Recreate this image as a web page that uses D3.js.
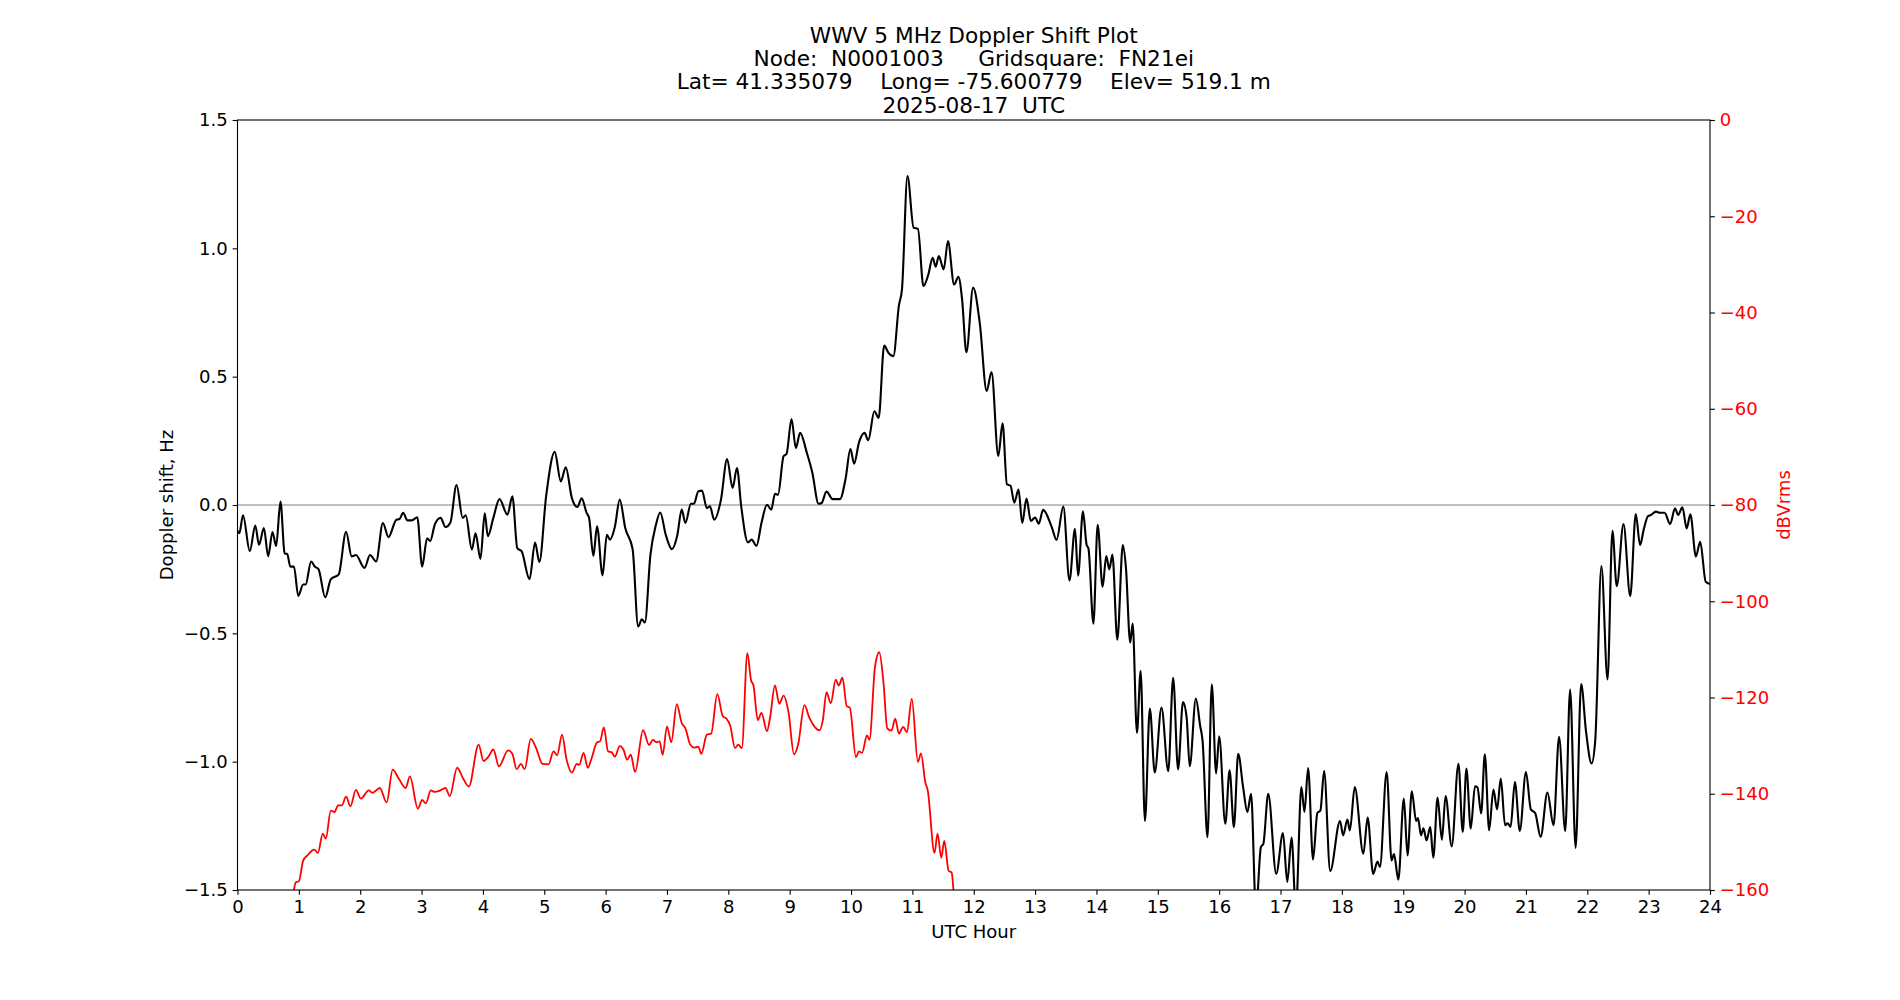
<!DOCTYPE html>
<html><head><meta charset="utf-8">
<script src="https://cdn.jsdelivr.net/npm/d3@7"></script>
<style>
body{margin:0;background:#fff}
svg text{font-family:"DejaVu Sans",sans-serif;white-space:pre}
</style>
</head><body>
<svg id="chart" width="1900" height="1000"></svg>
<script>
const titleLines = [
  "WWV 5 MHz Doppler Shift Plot",
  "Node:  N0001003     Gridsquare:  FN21ei",
  "Lat= 41.335079    Long= -75.600779    Elev= 519.1 m",
  "2025-08-17  UTC"
];
const xLabel = "UTC Hour";
const yLeftLabel = "Doppler shift, Hz";
const yRightLabel = "dBVrms";
const xTicks = d3.range(0, 25, 1);
const hzTicks = [-1.5, -1.0, -0.5, 0.0, 0.5, 1.0, 1.5];
const dbTicks = [0, -20, -40, -60, -80, -100, -120, -140, -160];

const dopplerHours = [
 0.00,0.03,0.09,0.20,0.29,0.35,0.43,0.50,0.57,0.63,0.70,0.77,0.81,0.86,0.92,0.99,1.07,1.11,1.20,1.26,1.32,1.43,1.52,1.65,1.77,1.86,1.93,2.07,2.16,2.26,2.37,2.46,2.59,2.64,2.70,2.77,2.84,2.93,3.01,3.09,3.14,3.22,3.31,3.39,3.47,3.57,3.67,3.72,3.82,3.88,3.96,4.03,
 4.08,4.17,4.27,4.40,4.48,4.56,4.63,4.76,4.85,4.92,5.03,5.17,5.27,5.35,5.45,5.54,5.61,5.69,5.73,5.80,5.86,5.95,6.02,6.07,6.15,6.23,6.32,6.44,6.53,6.59,6.64,6.73,6.82,6.89,6.98,7.08,7.17,7.24,7.30,7.39,7.44,7.51,7.57,7.65,7.70,7.77,7.88,7.98,
 8.07,8.14,8.21,8.32,8.38,8.46,8.54,8.63,8.70,8.76,8.81,8.90,8.95,9.03,9.10,9.17,9.28,9.37,9.47,9.52,9.60,9.70,9.82,9.91,9.99,10.05,10.13,10.22,10.28,10.38,10.45,10.54,10.61,10.69,10.78,10.83,10.92,11.02,11.09,11.18,11.26,11.33,11.38,11.43,11.51,11.58,11.68,11.75,11.81,11.88,11.99,
 12.10,12.21,12.29,12.40,12.47,12.54,12.60,12.66,12.73,12.79,12.86,12.93,13.00,13.06,13.13,13.27,13.35,13.46,13.56,13.65,13.70,13.78,13.84,13.87,13.95,14.02,14.10,14.16,14.21,14.26,14.34,14.43,14.48,14.55,14.59,14.66,14.72,14.79,14.87,14.95,15.06,15.17,15.25,15.33,15.41,15.47,15.52,15.62,15.69,15.73,15.81,15.88,15.95,
 16.00,16.10,16.17,16.24,16.31,16.39,16.46,16.52,16.60,16.68,16.72,16.80,16.93,17.04,17.11,17.18,17.25,17.34,17.39,17.45,17.53,17.60,17.65,17.71,17.81,17.97,18.02,18.09,18.13,18.21,18.35,18.42,18.51,18.58,18.62,18.73,18.81,18.85,18.92,19.01,19.07,19.14,19.21,19.24,19.29,19.33,19.38,19.44,19.49,19.56,19.63,19.69,19.79,19.90,19.97,
 20.03,20.10,20.17,20.21,20.27,20.33,20.40,20.47,20.53,20.59,20.66,20.70,20.75,20.82,20.90,21.00,21.08,21.15,21.24,21.35,21.45,21.54,21.64,21.72,21.81,21.90,21.98,22.07,22.13,22.23,22.33,22.41,22.48,22.59,22.70,22.79,22.86,22.92,22.99,23.03,23.12,23.18,23.26,23.35,23.43,23.48,23.55,23.62,23.68,23.77,23.84,23.93,24.00
];
const dopplerHz = [
 -0.10,-0.11,-0.04,-0.18,-0.08,-0.155,-0.09,-0.20,-0.105,-0.16,0.013,-0.19,-0.19,-0.24,-0.24,-0.354,-0.31,-0.31,-0.22,-0.24,-0.25,-0.36,-0.29,-0.27,-0.104,-0.20,-0.195,-0.245,-0.195,-0.22,-0.07,-0.125,-0.057,-0.055,-0.03,-0.06,-0.06,-0.048,-0.24,-0.13,-0.14,-0.073,-0.05,-0.086,-0.068,0.078,-0.05,-0.04,-0.174,-0.11,-0.21,-0.032,
 -0.122,-0.05,0.023,-0.038,0.034,-0.168,-0.18,-0.289,-0.146,-0.222,0.034,0.207,0.092,0.147,0.027,-0.008,0.026,-0.031,-0.05,-0.198,-0.083,-0.274,-0.116,-0.135,-0.086,0.021,-0.09,-0.172,-0.473,-0.445,-0.458,-0.194,-0.077,-0.029,-0.116,-0.172,-0.116,-0.018,-0.07,0.005,0.005,0.053,0.056,-0.012,-0.005,-0.057,0.021,0.179,
 0.066,0.144,-0.005,-0.146,-0.135,-0.159,-0.07,0.001,-0.018,0.044,0.040,0.19,0.20,0.335,0.222,0.281,0.203,0.125,0.005,0.008,0.052,0.023,0.023,0.101,0.218,0.161,0.244,0.281,0.252,0.365,0.339,0.621,0.593,0.58,0.777,0.84,1.282,1.08,1.076,0.853,0.898,0.963,0.928,0.97,0.918,1.028,0.859,0.889,0.801,0.595,0.847,
 0.705,0.444,0.518,0.191,0.318,0.081,0.075,0.009,0.06,-0.07,0.025,-0.062,-0.049,-0.073,-0.019,-0.085,-0.136,-0.006,-0.294,-0.093,-0.275,-0.025,-0.156,-0.17,-0.462,-0.077,-0.319,-0.199,-0.251,-0.193,-0.525,-0.156,-0.243,-0.536,-0.462,-0.888,-0.646,-1.231,-0.793,-1.042,-0.789,-1.037,-0.673,-1.03,-0.768,-0.828,-1.018,-0.754,-0.86,-0.92,-1.294,-0.699,-1.046,
 -0.901,-1.242,-1.034,-1.255,-0.969,-1.099,-1.196,-1.125,-1.58,-1.333,-1.32,-1.125,-1.437,-1.278,-1.469,-1.296,-1.58,-1.099,-1.196,-1.025,-1.382,-1.2,-1.19,-1.037,-1.426,-1.231,-1.287,-1.226,-1.268,-1.099,-1.359,-1.218,-1.437,-1.389,-1.41,-1.04,-1.385,-1.36,-1.46,-1.144,-1.365,-1.115,-1.231,-1.22,-1.287,-1.26,-1.307,-1.255,-1.374,-1.14,-1.304,-1.134,-1.33,-1.008,-1.274,
 -1.027,-1.261,-1.096,-1.10,-1.202,-0.971,-1.267,-1.109,-1.186,-1.066,-1.248,-1.24,-1.254,-1.079,-1.27,-1.04,-1.186,-1.2,-1.293,-1.12,-1.248,-0.903,-1.27,-0.719,-1.336,-0.698,-0.884,-1.007,-0.916,-0.238,-0.68,-0.101,-0.316,-0.074,-0.355,-0.035,-0.156,-0.095,-0.043,-0.04,-0.026,-0.03,-0.03,-0.074,-0.013,-0.039,-0.009,-0.091,-0.036,-0.201,-0.143,-0.299,-0.308
];

const powerHours = [
 0.88,0.92,0.95,1.00,1.07,1.14,1.25,1.31,1.39,1.44,1.52,1.58,1.64,1.70,1.77,1.84,1.93,2.01,2.14,2.20,2.32,2.43,2.53,2.63,2.74,2.81,2.94,3.01,3.07,3.15,3.21,3.29,3.39,3.46,3.58,3.68,3.77,3.93,
 4.01,4.09,4.17,4.26,4.41,4.48,4.55,4.62,4.68,4.78,4.87,4.97,5.07,5.15,5.21,5.29,5.36,5.45,5.53,5.57,5.64,5.71,5.77,5.86,5.91,5.97,6.04,6.10,6.15,6.23,6.29,6.35,6.41,6.48,6.61,6.71,6.77,6.83,6.88,6.93,7.00,7.07,7.16,7.24,7.30,7.38,7.45,7.51,7.56,7.65,7.72,7.82,7.91,7.97,
 8.03,8.11,8.16,8.22,8.31,8.37,8.41,8.48,8.54,8.63,8.68,8.76,8.83,8.90,8.98,9.07,9.14,9.24,9.32,9.40,9.49,9.54,9.60,9.67,9.75,9.80,9.86,9.93,9.98,10.08,10.13,10.18,10.26,10.30,10.39,10.46,10.53,10.59,10.66,10.72,10.78,10.85,10.91,10.99,11.09,11.14,11.21,11.25,11.36,11.41,11.47,11.52,11.59,11.64,11.67,11.72
];
const powerDb = [
 -164,-160,-158.4,-158.2,-153.9,-152.8,-151.6,-152.3,-148.3,-149.3,-143.5,-143.8,-142.4,-142.4,-140.6,-142.6,-139.2,-141.0,-139.3,-139.8,-138.8,-141.8,-135.0,-136.9,-138.8,-136.4,-143.1,-141.3,-142.0,-139.3,-139.6,-139.4,-138.8,-140.5,-134.6,-136.9,-138.5,-129.8,
 -133.2,-132.3,-130.8,-134.3,-131.0,-131.7,-134.9,-133.8,-134.9,-128.6,-130.6,-133.8,-133.9,-131.2,-132.0,-127.7,-132.7,-135.6,-133.8,-134.0,-131.5,-134.6,-132.7,-129.3,-129.1,-126.2,-131.2,-131.4,-132.3,-130.1,-130.8,-132.9,-131.9,-135.5,-126.8,-129.9,-128.8,-129.3,-129.1,-131.9,-126.0,-129.3,-121.4,-125.3,-126.4,-129.8,-130.4,-130.2,-131.7,-127.7,-127.5,-119.3,-123.9,-124.4,
 -125.8,-130.5,-129.8,-130.5,-110.8,-116.4,-117.5,-124.7,-123.2,-127.0,-124.2,-117.5,-121.3,-119.6,-123.0,-131.8,-129.6,-121.6,-124.2,-126.0,-126.8,-124.7,-118.9,-121.2,-116.3,-117.5,-115.9,-121.8,-122.1,-132.4,-131.2,-131.5,-127.9,-128.8,-113.7,-110.6,-117.1,-126.4,-126.9,-124.4,-127.5,-126.1,-127.2,-120.3,-133.4,-131.6,-137.6,-139.3,-152.3,-148.3,-153.3,-149.8,-156.0,-156.4,-160,-168
];

const W = 1900, H = 1000;
const L = 237.5, R = 1710, T = 120, B = 890;
const FS = 18.06, TFS = 21.67, TICK = 4.86, PAD = 4.86;

const svg = d3.select("#chart");
svg.append("rect").attr("width", W).attr("height", H).attr("fill", "#fff");

const x = d3.scaleLinear().domain([0, 24]).range([L, R]);
const yHz = d3.scaleLinear().domain([-1.5, 1.5]).range([B, T]);
const yDb = d3.scaleLinear().domain([-160, 0]).range([B, T]);

svg.append("clipPath").attr("id", "plotclip")
  .append("rect").attr("x", L).attr("y", T).attr("width", R - L).attr("height", B - T);

const plot = svg.append("g").attr("clip-path", "url(#plotclip)");

plot.append("line")
  .attr("x1", x(0)).attr("x2", x(24))
  .attr("y1", yHz(0)).attr("y2", yHz(0))
  .attr("stroke", "#808080").attr("stroke-width", 1.1);

const doppler = dopplerHours.map((h, i) => [h, dopplerHz[i]]);
const power = powerHours.map((h, i) => [h, powerDb[i]]);

plot.append("path").datum(doppler)
  .attr("fill", "none").attr("stroke", "#000").attr("stroke-width", 2.1)
  .attr("stroke-linejoin", "round")
  .attr("d", d3.line().x(d => x(d[0])).y(d => yHz(d[1])).curve(d3.curveMonotoneX));

plot.append("path").datum(power)
  .attr("fill", "none").attr("stroke", "#ff0000").attr("stroke-width", 1.8)
  .attr("stroke-linejoin", "round")
  .attr("d", d3.line().x(d => x(d[0])).y(d => yDb(d[1])).curve(d3.curveMonotoneX));

function styleAxis(g, color) {
  g.select(".domain").remove();
  g.selectAll(".tick line").attr("stroke", "#000").attr("stroke-width", 1.1);
  g.selectAll(".tick text").attr("font-family", "DejaVu Sans").attr("font-size", FS).attr("fill", color);
}

const xAxis = svg.append("g").attr("transform", `translate(0,${B})`)
  .call(d3.axisBottom(x).tickValues(xTicks).tickFormat(d3.format("d")).tickSize(TICK).tickPadding(PAD));
styleAxis(xAxis, "#000");

const yAxisL = svg.append("g").attr("transform", `translate(${L},0)`)
  .call(d3.axisLeft(yHz).tickValues(hzTicks).tickFormat(d3.format(".1f")).tickSize(TICK).tickPadding(PAD));
styleAxis(yAxisL, "#000");

const yAxisR = svg.append("g").attr("transform", `translate(${R},0)`)
  .call(d3.axisRight(yDb).tickValues(dbTicks).tickFormat(d3.format("d")).tickSize(TICK).tickPadding(PAD));
styleAxis(yAxisR, "#ff0000");

svg.append("rect").attr("x", L).attr("y", T).attr("width", R - L).attr("height", B - T)
  .attr("fill", "none").attr("stroke", "#000").attr("stroke-width", 1.1);

const title = svg.append("text").attr("text-anchor", "middle")
  .attr("font-size", TFS).attr("fill", "#000");
titleLines.forEach((t, i) => {
  title.append("tspan").attr("x", (L + R) / 2).attr("y", 42.6 + i * 23.3).text(t);
});

svg.append("text").attr("x", (L + R) / 2).attr("y", 937.5)
  .attr("text-anchor", "middle").attr("font-size", FS).attr("fill", "#000").text(xLabel);

svg.append("text").attr("transform", `translate(172.5,${(T + B) / 2}) rotate(-90)`)
  .attr("text-anchor", "middle").attr("font-size", FS).attr("fill", "#000").text(yLeftLabel);

svg.append("text").attr("transform", `translate(1790,${(T + B) / 2}) rotate(-90)`)
  .attr("text-anchor", "middle").attr("font-size", FS).attr("fill", "#ff0000").text(yRightLabel);
</script>
</body></html>
